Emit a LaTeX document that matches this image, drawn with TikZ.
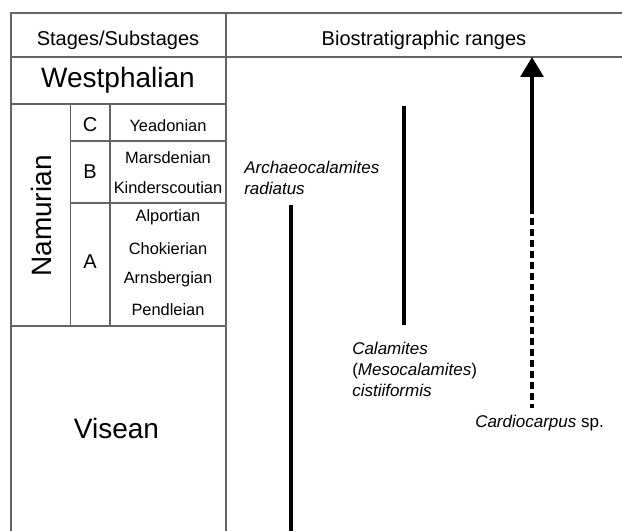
\documentclass[tikz,border=0pt]{standalone}
\usepackage{fontspec}
\setmainfont{Liberation Sans}
\usetikzlibrary{arrows.meta}
\definecolor{rule}{RGB}{100,100,100}
\tikzset{
    tableline/.style={draw=rule, line width=1pt},
    big/.style={font=\fontsize{21}{25}\selectfont},
    mid/.style={font=\fontsize{15}{18}\selectfont},
    sub/.style={font=\fontsize{12.3}{15}\selectfont},
    taxon/.style={anchor=west, align=left, inner sep=0pt, font=\fontsize{12.75}{15.75}\selectfont},
    rangebar/.style={line width=3pt},
}

\begin{document}
\begin{tikzpicture}[x=0.75pt, y=-0.75pt]
    \useasboundingbox (0,0) rectangle (622,531);

    \draw[tableline] (11,531) -- (11,13) -- (622,13);
    \draw[tableline] (11,57) -- (622,57);
    \draw[tableline] (226,13) -- (226,531);
    \draw[tableline] (11,104) -- (226,104);
    \draw[tableline] (11,326) -- (226,326);
    \draw[tableline] (70.7,104) -- (70.7,326);
    \draw[tableline] (110,104) -- (110,326);
    \draw[tableline] (70.7,141) -- (226,141);
    \draw[tableline] (70.7,203) -- (226,203);

    \node[mid] at (118,40)  (stages) {Stages/Substages};
    \node[mid] at (424,40)  (ranges) {Biostratigraphic ranges};
    \node[big] at (118,80)  (westph) {Westphalian};
    \node[big, rotate=90] at (41,216) (namur) {Namurian};
    \node[big] at (116.5,428) (visean) {Visean};

    \node[mid] at (90,125)  (subC) {C};
    \node[mid] at (90,172)  (subB) {B};
    \node[mid] at (90,262)  (subA) {A};

    \node[sub] at (168,126) (yead)  {Yeadonian};
    \node[sub] at (168,158) (mars)  {Marsdenian};
    \node[sub] at (168,188) (kind)  {Kinderscoutian};
    \node[sub] at (168,217) (alp)   {Alportian};
    \node[sub] at (168,249) (chok)  {Chokierian};
    \node[sub] at (168,279) (arns)  {Arnsbergian};
    \node[sub] at (168,310) (pend)  {Pendleian};

    \node[taxon] at (244,178) (archaeo) {\itshape Archaeocalamites\\\itshape radiatus};
    \node[taxon] at (352,369) (calam) {\itshape Calamites\\(\itshape Mesocalamites\upshape)\\\itshape cistiiformis};
    \node[taxon] at (475,423) (cardio) {\itshape Cardiocarpus\upshape\ sp.};

    \coordinate (archTop) at (291,205);
    \coordinate (archBot) at (291,531);
    \coordinate (calTop) at (403.5,106);
    \coordinate (calBot) at (403.5,325);
    \coordinate (cardTop) at (532,57);
    \coordinate (cardMid) at (532,207);
    \coordinate (cardBot) at (532,408);

    \draw[rangebar] (archBot) -- (archTop);
    \draw[rangebar] (calBot) -- (calTop);
    \draw[rangebar, -{Triangle[length=15pt, width=17pt]}] (cardMid) -- (cardTop);
    \draw[rangebar, dash pattern=on 5.2pt off 3pt] (cardMid) -- (cardBot);
\end{tikzpicture}
\end{document}
